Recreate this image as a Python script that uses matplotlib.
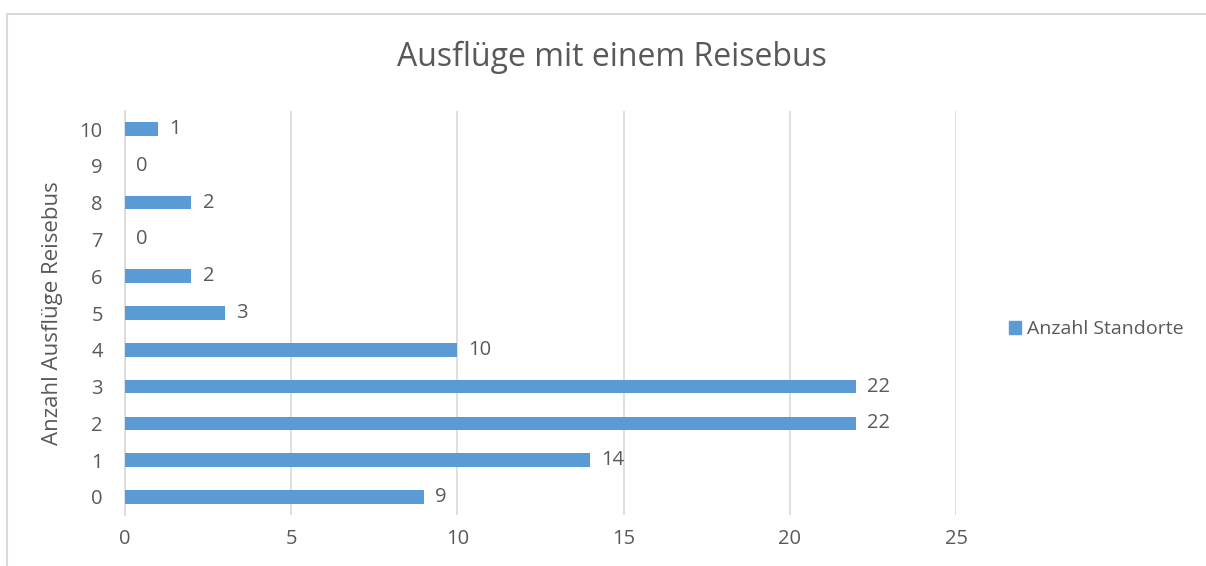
import matplotlib.pyplot as plt
from matplotlib.patches import Patch, Rectangle

categories = ["0", "1", "2", "3", "4", "5", "6", "7", "8", "9", "10"]
counts = [9, 14, 22, 22, 10, 3, 2, 0, 2, 0, 1]
x_ticks = [0, 5, 10, 15, 20, 25]

TITLE = "Ausflüge mit einem Reisebus"
Y_LABEL = "Anzahl Ausflüge Reisebus"
SERIES = "Anzahl Standorte"

BAR = "#5B9BD5"
TEXT = "#595959"
GRID = "#D9D9D9"
W, H = 1206, 566

plt.rcParams["font.family"] = ["Open Sans", "DejaVu Sans"]

fig = plt.figure(figsize=(W / 100, H / 100), dpi=100)
fig.patches.append(Rectangle((7 / W, -0.1), 1.2, (H - 14) / H + 0.1, transform=fig.transFigure,
                             fill=False, edgecolor=GRID, linewidth=1.5))

left, right, top, bottom = 125, 956, 110.6, 515.4
ax = fig.add_axes([left / W, (H - bottom) / H, (right - left) / W, (bottom - top) / H])

pos = list(range(len(categories)))
ax.barh(pos, counts, height=0.37, color=BAR, zorder=3)
for p, v in zip(pos, counts):
    ax.annotate(str(v), (v, p), xytext=(8, 0), textcoords="offset points",
                va="center", ha="left", fontsize=14.5, color=TEXT)

ax.set_xlim(0, 25)
ax.set_ylim(-0.5, len(categories) - 0.5)
ax.set_xticks(x_ticks)
ax.set_yticks(pos)
ax.set_yticklabels(categories)
ax.tick_params(axis="both", length=0, labelsize=14.5, labelcolor=TEXT)
ax.tick_params(axis="y", pad=16)
ax.tick_params(axis="x", pad=10)
ax.grid(axis="x", color=GRID, linewidth=1.2, zorder=0)
for side in ["top", "right", "bottom"]:
    ax.spines[side].set_visible(False)
ax.spines["left"].set_color(GRID)
ax.spines["left"].set_linewidth(1.2)

ax.set_ylabel(Y_LABEL, fontsize=16, color=TEXT)
ax.yaxis.set_label_coords((63 - left) / (right - left), 0.5)

fig.text(612 / W, 1 - 57 / H, TITLE, ha="center", va="center", fontsize=23, color=TEXT)

fig.legend(handles=[Patch(color=BAR, label=SERIES)], loc="center left",
           bbox_to_anchor=(991 / W, 1 - 329 / H), frameon=False, fontsize=14,
           labelcolor=TEXT, handlelength=0.65, handleheight=0.65, handletextpad=0.3)

fig.savefig("out.png", dpi=100)
